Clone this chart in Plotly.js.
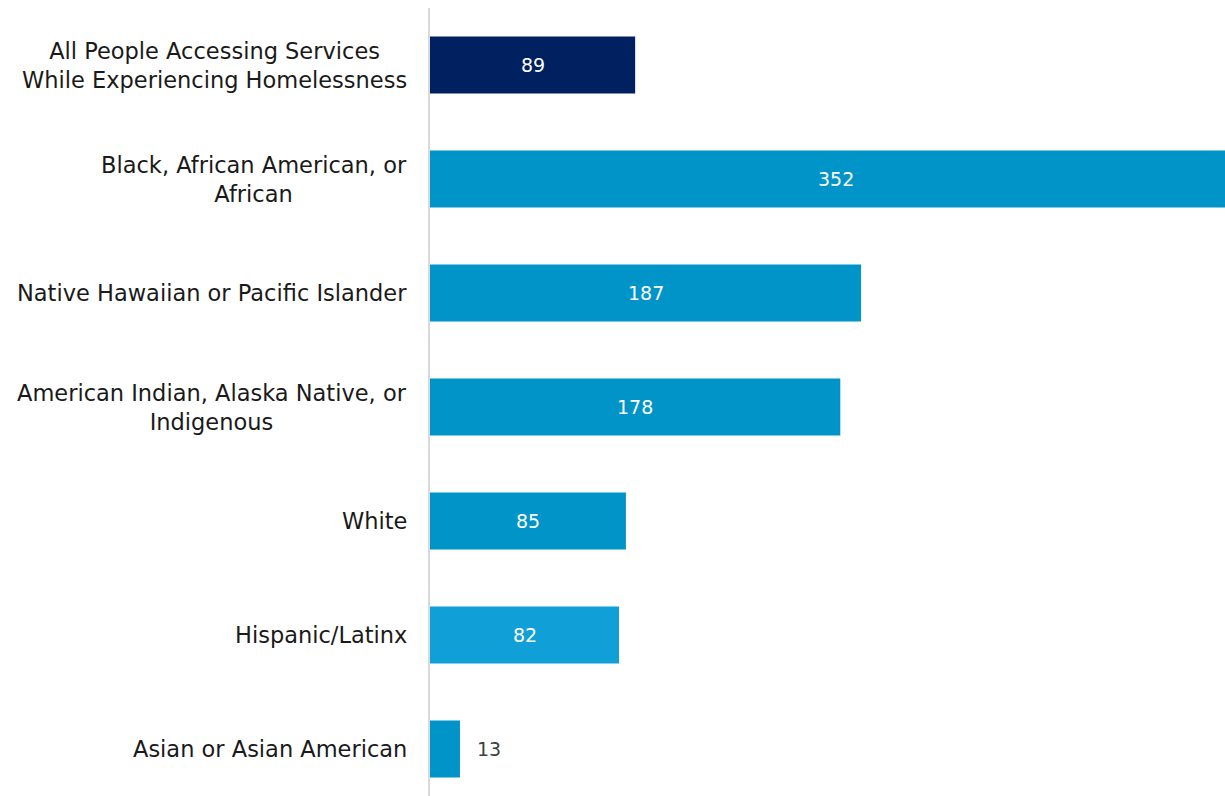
<!DOCTYPE html>
<html>
<head>
<meta charset="utf-8">
<script src="https://cdn.plot.ly/plotly-3.0.1.min.js"></script>
<style>
html,body{margin:0;padding:0;overflow:hidden;background:#fff;width:1225px;height:796px;}
#chart{width:1225px;height:806px;}
</style>
</head>
<body>
<div id="chart"></div>
<script>
var categories = [
  "All People Accessing Services<br>While Experiencing Homelessness",
  "Black, African American, or<br>African",
  "Native Hawaiian or Pacific Islander",
  "American Indian, Alaska Native, or<br>Indigenous",
  "White",
  "Hispanic/Latinx",
  "Asian or Asian American"
];
var values = [89, 352, 187, 178, 85, 82, 13];
var barColors = ["#002060", "#0094c8", "#0094c8", "#0094c8", "#0094c8", "#109fd6", "#0094c8"];
var labelInside = [true, true, true, true, true, true, false];

var FONT = "DejaVu Sans, Open Sans, sans-serif";

var trace = {
  type: "bar",
  orientation: "h",
  y: categories,
  x: values,
  marker: {color: barColors, line: {width: 0}},
  width: 0.5,
  hoverinfo: "none"
};

var annotations = categories.map(function(c){
  return {
    xref: "paper", yref: "y",
    x: 0, y: c,
    xanchor: "right", yanchor: "middle",
    xshift: -21,
    text: c,
    align: "center",
    showarrow: false,
    font: {family: FONT, size: 22.5, color: "#1a1a1a"}
  };
});

values.forEach(function(v, i){
  if (labelInside[i]) {
    annotations.push({
      xref: "x", yref: "y",
      x: v / 2, y: categories[i],
      xanchor: "center", yanchor: "middle",
      text: String(v),
      showarrow: false,
      font: {family: FONT, size: 19, color: "#ffffff"}
    });
  } else {
    annotations.push({
      xref: "x", yref: "y",
      x: v, y: categories[i],
      xanchor: "left", yanchor: "middle",
      xshift: 15,
      text: String(v),
      showarrow: false,
      font: {family: FONT, size: 19, color: "#404040"}
    });
  }
});

var layout = {
  width: 1225,
  height: 806,
  margin: {l: 430, r: 0, t: 8, b: 0, pad: 0},
  paper_bgcolor: "#ffffff",
  plot_bgcolor: "#ffffff",
  showlegend: false,
  bargap: 0.5,
  xaxis: {
    range: [0, 344.9],
    showgrid: false,
    zeroline: false,
    showticklabels: false,
    showline: false,
    ticks: "",
    fixedrange: true
  },
  yaxis: {
    type: "category",
    autorange: "reversed",
    showticklabels: false,
    showgrid: false,
    zeroline: false,
    showline: true,
    linecolor: "#d9d9d9",
    linewidth: 2,
    ticks: "",
    fixedrange: true
  },
  annotations: annotations
};

Plotly.newPlot("chart", [trace], layout, {displayModeBar: false, staticPlot: true});
</script>
</body>
</html>
